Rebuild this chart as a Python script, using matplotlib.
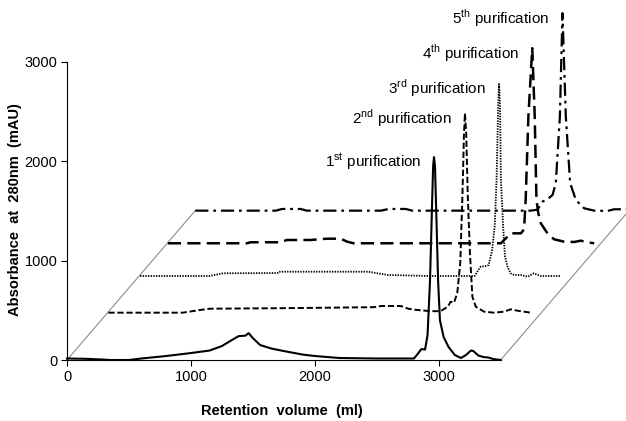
import numpy as np
import matplotlib
matplotlib.use('Agg')
import matplotlib.pyplot as plt

plt.rcParams['font.family'] = ['Liberation Sans', 'DejaVu Sans']
plt.rcParams['mathtext.fontset'] = 'custom'
plt.rcParams['mathtext.rm'] = 'Liberation Sans'
plt.rcParams['lines.scale_dashes'] = False

# chromatograms, each in its own local (volume, absorbance) frame
x1 = [0, 150, 280, 350, 500, 600, 800, 1000, 1150, 1250, 1330, 1385, 1440, 1466, 1500, 1560,
      1650, 1750, 1900, 2000, 2200, 2500, 2800, 2830, 2860, 2890, 2910, 2930, 2945, 2955, 2962,
      2970, 2980, 2995, 3010, 3040, 3080, 3130, 3180, 3220, 3260, 3280, 3320, 3360, 3400, 3440, 3500]
y1 = [15, 12, 5, 0, 0, 15, 40, 70, 95, 140, 200, 240, 245, 270, 220, 150,
      115, 90, 55, 40, 20, 15, 15, 60, 110, 105, 250, 800, 1500, 1950, 2040,
      1950, 1500, 800, 400, 230, 130, 50, 20, 50, 95, 90, 45, 30, 25, 10, 0]

x2 = [0, 600, 740, 820, 1390, 2140, 2200, 2360, 2420, 2470, 2600, 2680, 2740, 2762, 2790,
      2816, 2840, 2858, 2870, 2878, 2888, 2900, 2918, 2938, 2965, 3032, 3112, 3193, 3247, 3301, 3409]
y2 = [0, 0, 27, 40, 45, 55, 67, 67, 40, 30, 15, 15, 60, 110, 100,
      200, 500, 1200, 1800, 2006, 1800, 1200, 600, 160, 60, 10, 0, 10, 34, 20, 0]

x3 = [0, 560, 670, 1110, 1120, 1840, 2000, 2340, 2700, 2730, 2750, 2790, 2813, 2840, 2862,
      2877, 2890, 2897, 2905, 2912, 2930, 2945, 2965, 2990, 3020, 3072, 3128, 3177, 3234, 3395]
y3 = [0, 0, 27, 30, 43, 43, 10, 0, 0, 60, 94, 100, 110, 250, 500,
      970, 1700, 1939, 1700, 970, 500, 194, 94, 27, 10, 10, -7, 27, 0, 0]

x4 = [0, 640, 665, 908, 962, 1150, 1285, 1395, 1447, 1498, 2688, 2728, 2769, 2850, 2875,
      2888, 2910, 2941, 2961, 2975, 2990, 3010, 3064, 3117, 3198, 3279, 3333, 3387, 3441]
y4 = [0, 0, 10, 10, 33, 33, 46, 46, 16, 0, 0, 50, 100, 100, 141,
      437, 1278, 1962, 1278, 437, 302, 201, 100, 40, 16, 13, 26, 10, 0]

x5 = [0, 650, 700, 850, 900, 1500, 1560, 1700, 1750, 2708, 2762, 2803, 2843, 2884, 2910,
      2943, 2964, 2991, 3026, 3072, 3112, 3139, 3220, 3328, 3382, 3491]
y5 = [0, 0, 17, 17, 0, 0, 17, 17, 0, 0, 10, 91, 115, 158, 276,
      946, 1986, 946, 276, 108, 57, 24, 0, -3, 14, 14]

# offset of each run on the pseudo-3D floor
x_shift = [0, 334, 590, 814, 1035]
y_shift = [0, 476, 845, 1174, 1502]
run_labels = ['1$^{\\mathrm{st}}$ purification', '2$^{\\mathrm{nd}}$ purification',
              '3$^{\\mathrm{rd}}$ purification', '4$^{\\mathrm{th}}$ purification',
              '5$^{\\mathrm{th}}$ purification']
floor_len = 3500

styles = [
    dict(ls='-', lw=1.5),
    dict(ls=(0, (4.5, 2)), lw=1.4),
    dict(ls=(0, (1.0, 0.9)), lw=1.3),
    dict(ls=(0, (9.5, 4.5)), lw=1.8),
    dict(ls=(0, (9.5, 3.5, 2, 3.5)), lw=1.6),
]

fig = plt.figure(figsize=(6.26, 4.21), dpi=100)
ax = fig.add_axes([67 / 626, 61 / 421, 559 / 626, 360 / 421])
ax.set_xlim(0, 559 / 0.1239)
ax.set_ylim(0, 360 / 0.09943)

# floor edges
ax.plot([0, x_shift[-1]], [0, y_shift[-1]], color='#8c8c8c', lw=0.8, clip_on=False)
ax.plot([floor_len, floor_len + x_shift[-1]], [0, y_shift[-1]], color='#8c8c8c', lw=0.8)

traces = [(x1, y1), (x2, y2), (x3, y3), (x4, y4), (x5, y5)]
for i in range(4, -1, -1):
    xs, ys = traces[i]
    xs = np.array(xs) + x_shift[i]
    ys = np.array(ys) + y_shift[i]
    ax.plot(xs, ys, color='black', solid_joinstyle='round', dash_capstyle='butt',
            clip_on=False, zorder=3, **styles[i])
    k = int(np.argmax(ys))
    ax.text(xs[k] - 105, ys[k] - 55, run_labels[i], ha='right', va='center', fontsize=11)

for s in ['top', 'right']:
    ax.spines[s].set_visible(False)
ax.spines['left'].set_bounds(0, 3000)
ax.spines['bottom'].set_bounds(0, 3500)
ax.set_xticks([0, 1000, 2000, 3000])
ax.set_yticks([0, 1000, 2000, 3000])
ax.tick_params(direction='out', length=4, width=0.8, labelsize=10.5, pad=3)

fig.text(15 / 626, 1 - 210 / 421, 'Absorbance  at  280nm  (mAU)', rotation=90,
         ha='center', va='center', fontsize=10.5, fontweight='bold')
fig.text(282 / 626, 1 - 411 / 421, 'Retention  volume  (ml)', ha='center', va='center',
         fontsize=10.5, fontweight='bold')

fig.savefig('out.png', dpi=100)
